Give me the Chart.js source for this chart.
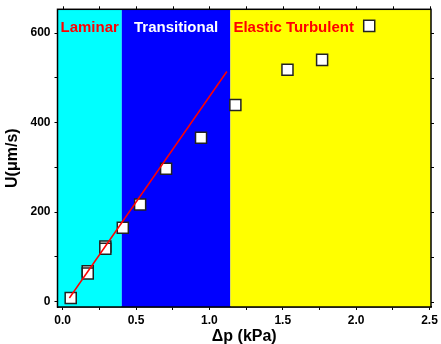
<!DOCTYPE html>
<html>
<head>
<meta charset="utf-8">
<script src="https://cdn.jsdelivr.net/npm/chart.js@4.4.1/dist/chart.umd.min.js"></script>
<style>
  html, body { margin: 0; padding: 0; background: #fff; }
  #wrap { width: 441px; height: 344px; }
</style>
</head>
<body>
<div id="wrap"><canvas id="grafico" width="441" height="344"></canvas></div>
<script>
// pontos medidos: delta p (kPa) e U (um/s)
const pressao = [0.055, 0.171, 0.171, 0.291, 0.291, 0.41, 0.528, 0.705, 0.943, 1.177, 1.532, 1.768, 2.089];
const velocidade = [8, 68, 63, 123, 118, 165, 217, 297, 366, 439, 518, 540, 616];

// ajuste linear (regime laminar)
const ajusteX = [0.046, 1.119];
const ajusteY = [8, 514];

// faixas de regime
const regimes = ['Laminar', 'Transitional', 'Elastic Turbulent'];
const limitesRegime = [0.403, 1.143];

const ticksX = [0, 0.25, 0.5, 0.75, 1, 1.25, 1.5, 1.75, 2, 2.25, 2.5];
const ticksY = [0, 100, 200, 300, 400, 500, 600];

const fonte = "'Liberation Sans', Arial, sans-serif";

// pinta as faixas de fundo e os nomes dos regimes
const fundoRegimes = {
    id: 'fundoRegimes',
    beforeDatasetsDraw(chart) {
        const { ctx, chartArea, scales } = chart;
        const x = scales.x;
        const bordas = [x.min, ...limitesRegime, x.max];
        const cores = ['#00ffff', '#0000ff', '#ffff00'];
        ctx.save();
        for (let i = 0; i < 3; i++) {
            const x0 = x.getPixelForValue(bordas[i]);
            const x1 = x.getPixelForValue(bordas[i + 1]);
            ctx.fillStyle = cores[i];
            ctx.fillRect(x0, chartArea.top, x1 - x0, chartArea.bottom - chartArea.top);
        }
        ctx.font = 'bold 15px ' + fonte;
        ctx.textBaseline = 'middle';
        const yTexto = chartArea.top + 19;
        const corTexto = ['#ff0000', '#ffffff', '#ff0000'];
        for (let i = 0; i < 3; i++) {
            const x0 = x.getPixelForValue(bordas[i]);
            const x1 = x.getPixelForValue(bordas[i + 1]);
            ctx.fillStyle = corTexto[i];
            if (i < 2) {
                ctx.textAlign = 'center';
                ctx.fillText(regimes[i], (x0 + x1) / 2, yTexto);
            } else {
                ctx.textAlign = 'left';
                ctx.fillText(regimes[i], x0 + 3, yTexto);
            }
        }
        ctx.restore();
    },
    afterDraw(chart) {
        const { ctx, chartArea, scales } = chart;
        ctx.save();
        ctx.strokeStyle = '#000';
        ctx.lineWidth = 1.5;
        ctx.strokeRect(chartArea.left, chartArea.top, chartArea.right - chartArea.left, chartArea.bottom - chartArea.top);
        // marcas espelhadas no topo e na direita
        ctx.lineWidth = 1;
        ctx.beginPath();
        ticksX.forEach(v => {
            const px = Math.round(scales.x.getPixelForValue(v)) + 0.5;
            ctx.moveTo(px, chartArea.top);
            ctx.lineTo(px, chartArea.top - 3);
        });
        ticksY.forEach(v => {
            const py = Math.round(scales.y.getPixelForValue(v)) + 0.5;
            ctx.moveTo(chartArea.right, py);
            ctx.lineTo(chartArea.right + 3, py);
        });
        ctx.stroke();
        ctx.restore();
    }
};

const eixoComum = {
    grid: { drawOnChartArea: false, color: '#000', tickLength: 3, lineWidth: 1 },
    border: { color: '#000', width: 1.5 }
};

new Chart(document.getElementById('grafico').getContext('2d'), {
    data: {
        datasets: [
            {
                type: 'line',
                data: ajusteX.map((v, i) => ({ x: v, y: ajusteY[i] })),
                borderColor: '#ff0000',
                borderWidth: 1.5,
                pointRadius: 0,
                order: 0
            },
            {
                type: 'scatter',
                data: pressao.map((v, i) => ({ x: v, y: velocidade[i] })),
                pointStyle: 'rect',
                pointRadius: 7.8,
                backgroundColor: '#ffffff',
                borderColor: '#222',
                borderWidth: 1.5,
                order: 1
            }
        ]
    },
    options: {
        responsive: false,
        animation: false,
        layout: { padding: { top: 3, right: 10, left: 0, bottom: 0 } },
        plugins: { legend: { display: false }, tooltip: { enabled: false } },
        scales: {
            x: {
                type: 'linear',
                position: 'bottom',
                min: -0.035,
                max: 2.51,
                afterBuildTicks: s => { s.ticks = ticksX.map(v => ({ value: v })); },
                afterFit: s => { s.height = 37; s.paddingLeft = 0; s.paddingRight = 0; },
                ticks: {
                    color: '#000',
                    font: { family: fonte, size: 12, weight: 'bold' },
                    padding: 3,
                    maxRotation: 0,
                    autoSkip: false,
                    callback: v => (Math.abs(v * 2 - Math.round(v * 2)) < 1e-6 ? v.toFixed(1) : '')
                },
                title: {
                    display: true,
                    text: 'Δp (kPa)',
                    color: '#000',
                    font: { family: fonte, size: 16, weight: 'bold', lineHeight: 1 },
                    padding: { top: 0, bottom: -1 }
                },
                ...eixoComum
            },
            y: {
                type: 'linear',
                position: 'left',
                min: -12,
                max: 653,
                afterBuildTicks: s => { s.ticks = ticksY.map(v => ({ value: v })); },
                afterFit: s => { s.width = 57.5; s.paddingTop = 0; s.paddingBottom = 0; },
                ticks: {
                    color: '#000',
                    font: { family: fonte, size: 12, weight: 'bold' },
                    padding: 4,
                    autoSkip: false,
                    callback: v => (v % 200 === 0 ? String(v) : '')
                },
                title: {
                    display: true,
                    text: 'U(μm/s)',
                    color: '#000',
                    font: { family: fonte, size: 16, weight: 'bold', lineHeight: 1 },
                    padding: { top: 5, bottom: 0 }
                },
                ...eixoComum
            }
        }
    },
    plugins: [fundoRegimes]
});
</script>
</body>
</html>
